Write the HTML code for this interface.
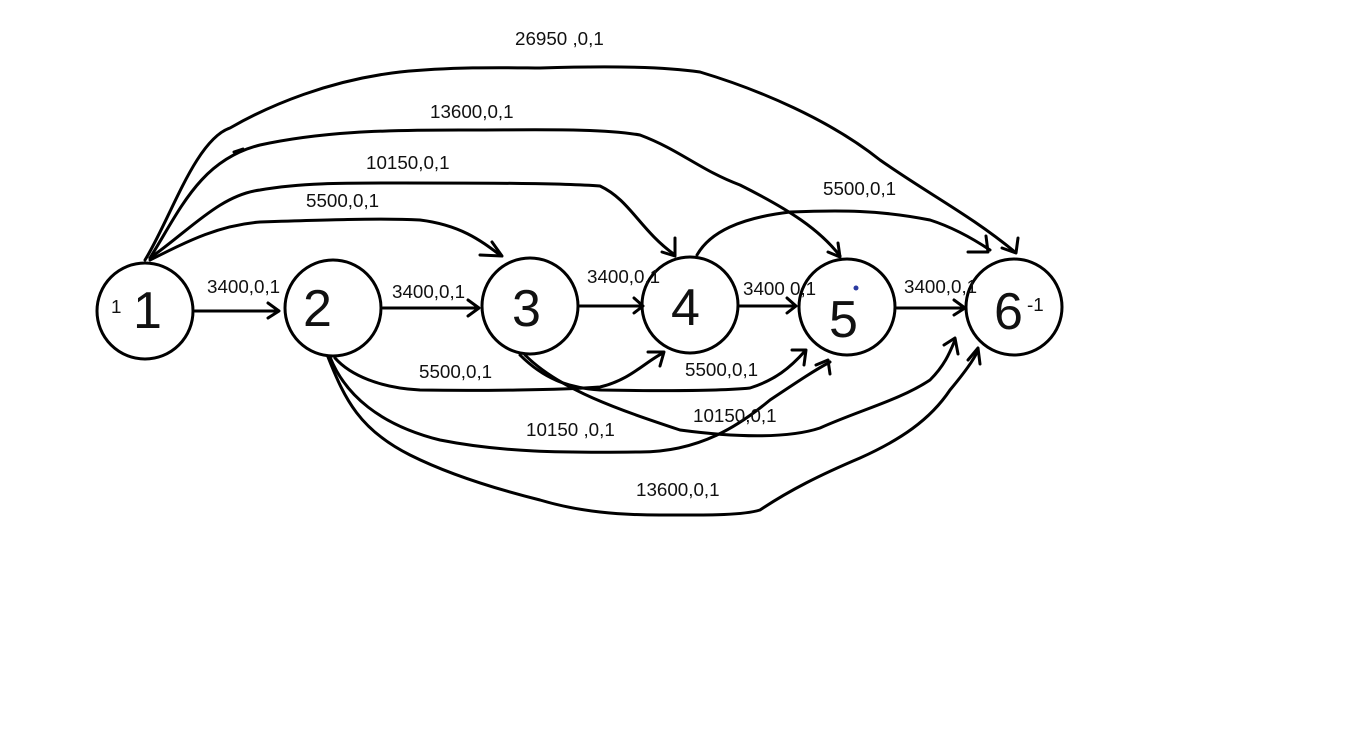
<!DOCTYPE html>
<html><head><meta charset="utf-8"><style>
html,body{margin:0;padding:0;background:#fff;}
svg{display:block;}
text{font-family:"Liberation Sans",sans-serif;font-size:18.8px;fill:#111;}
.n{font-size:52px;font-weight:normal;}
</style></head><body>
<svg width="1350" height="749" viewBox="0 0 1350 749" xmlns="http://www.w3.org/2000/svg">
<g fill="none" stroke="#000" stroke-width="3" stroke-linecap="round" stroke-linejoin="round">
<circle cx="145" cy="311" r="48"/>
<circle cx="333" cy="308" r="48"/>
<circle cx="530" cy="306" r="48"/>
<circle cx="690" cy="305" r="48"/>
<circle cx="847" cy="307" r="48"/>
<circle cx="1014" cy="307" r="48"/>
<path d="M195 311 L278 311 M268 303 L279 311 L268 318"/>
<path d="M383 308 L478 308 M468 300 L479 308 L468 316"/>
<path d="M580 306 L642 306 M634 298 L643 306 L634 313"/>
<path d="M740 306 L795 306 M787 298 L796 306 L787 313"/>
<path d="M897 308 L964 308 M954 300 L965 308 L954 315"/>
<path d="M145 260 C170 220 195 140 230 128 C270 105 330 80 400 72 C460 66 520 68 540 68 C600 66 660 66 700 72 C760 90 830 120 880 160 C930 195 970 215 1015 252"/>
<path d="M1002 248 L1016 253 L1018 238"/>
<path d="M150 258 C180 210 200 160 260 145 C320 132 380 130 460 130 C540 130 600 128 640 135 C680 150 700 170 740 185 C790 210 820 230 840 256"/>
<path d="M828 252 L840 257 L838 243"/>
<path d="M234 152 L243 149"/>
<path d="M150 258 C190 230 220 195 260 190 C300 183 340 183 400 183 C480 183 560 183 600 186 C630 200 640 230 675 255"/>
<path d="M662 252 L675 256 L675 238"/>
<path d="M150 260 C190 240 220 225 260 222 C320 220 380 218 420 220 C460 225 480 240 500 255"/>
<path d="M480 255 L502 256 L492 242"/>
<path d="M697 255 C710 232 740 218 790 212 C840 210 880 210 930 220 C955 228 975 240 990 250"/>
<path d="M968 252 L988 252 L986 236"/>
<path d="M335 358 C350 375 380 388 420 390 C480 391 560 390 600 387 C630 380 645 362 663 353"/>
<path d="M648 352 L664 352 L660 366"/>
<path d="M520 355 C545 380 570 388 600 390 C660 391 720 391 750 388 C775 380 790 368 805 351"/>
<path d="M792 350 L806 350 L804 365"/>
<path d="M330 357 C345 395 380 425 440 440 C500 452 560 453 640 452 C700 452 740 425 770 400 C800 380 815 370 830 362"/>
<path d="M816 365 L828 360 L830 374"/>
<path d="M525 355 C560 390 620 410 680 430 C740 438 790 438 820 428 C860 410 900 400 930 380 C945 365 950 352 955 340"/>
<path d="M944 345 L955 338 L958 354"/>
<path d="M328 357 C345 400 360 430 410 455 C450 475 500 490 540 500 C580 512 620 515 660 515 C700 515 740 516 760 510 C790 490 820 475 860 458 C900 440 930 420 950 390 C965 372 975 358 978 350"/>
<path d="M968 360 L978 348 L980 364"/>
</g>
<circle cx="856" cy="288" r="2.5" fill="#2a3aa0"/>
<text class="n" x="133" y="328">1</text>
<text class="n" x="303" y="326">2</text>
<text class="n" x="512" y="326">3</text>
<text class="n" x="671" y="325">4</text>
<text class="n" x="829" y="337">5</text>
<text class="n" x="994" y="329">6</text>
<text x="111" y="313">1</text>
<text x="1027" y="311">-1</text>
<text x="515" y="45">26950 ,0,1</text>
<text x="430" y="118">13600,0,1</text>
<text x="366" y="169">10150,0,1</text>
<text x="306" y="207">5500,0,1</text>
<text x="207" y="293">3400,0,1</text>
<text x="392" y="298">3400,0,1</text>
<text x="587" y="283">3400,0,1</text>
<text x="743" y="295">3400 0,1</text>
<text x="904" y="293">3400,0,1</text>
<text x="823" y="195">5500,0,1</text>
<text x="419" y="378">5500,0,1</text>
<text x="685" y="376">5500,0,1</text>
<text x="693" y="422">10150,0,1</text>
<text x="526" y="436">10150 ,0,1</text>
<text x="636" y="496">13600,0,1</text>
</svg>
</body></html>
